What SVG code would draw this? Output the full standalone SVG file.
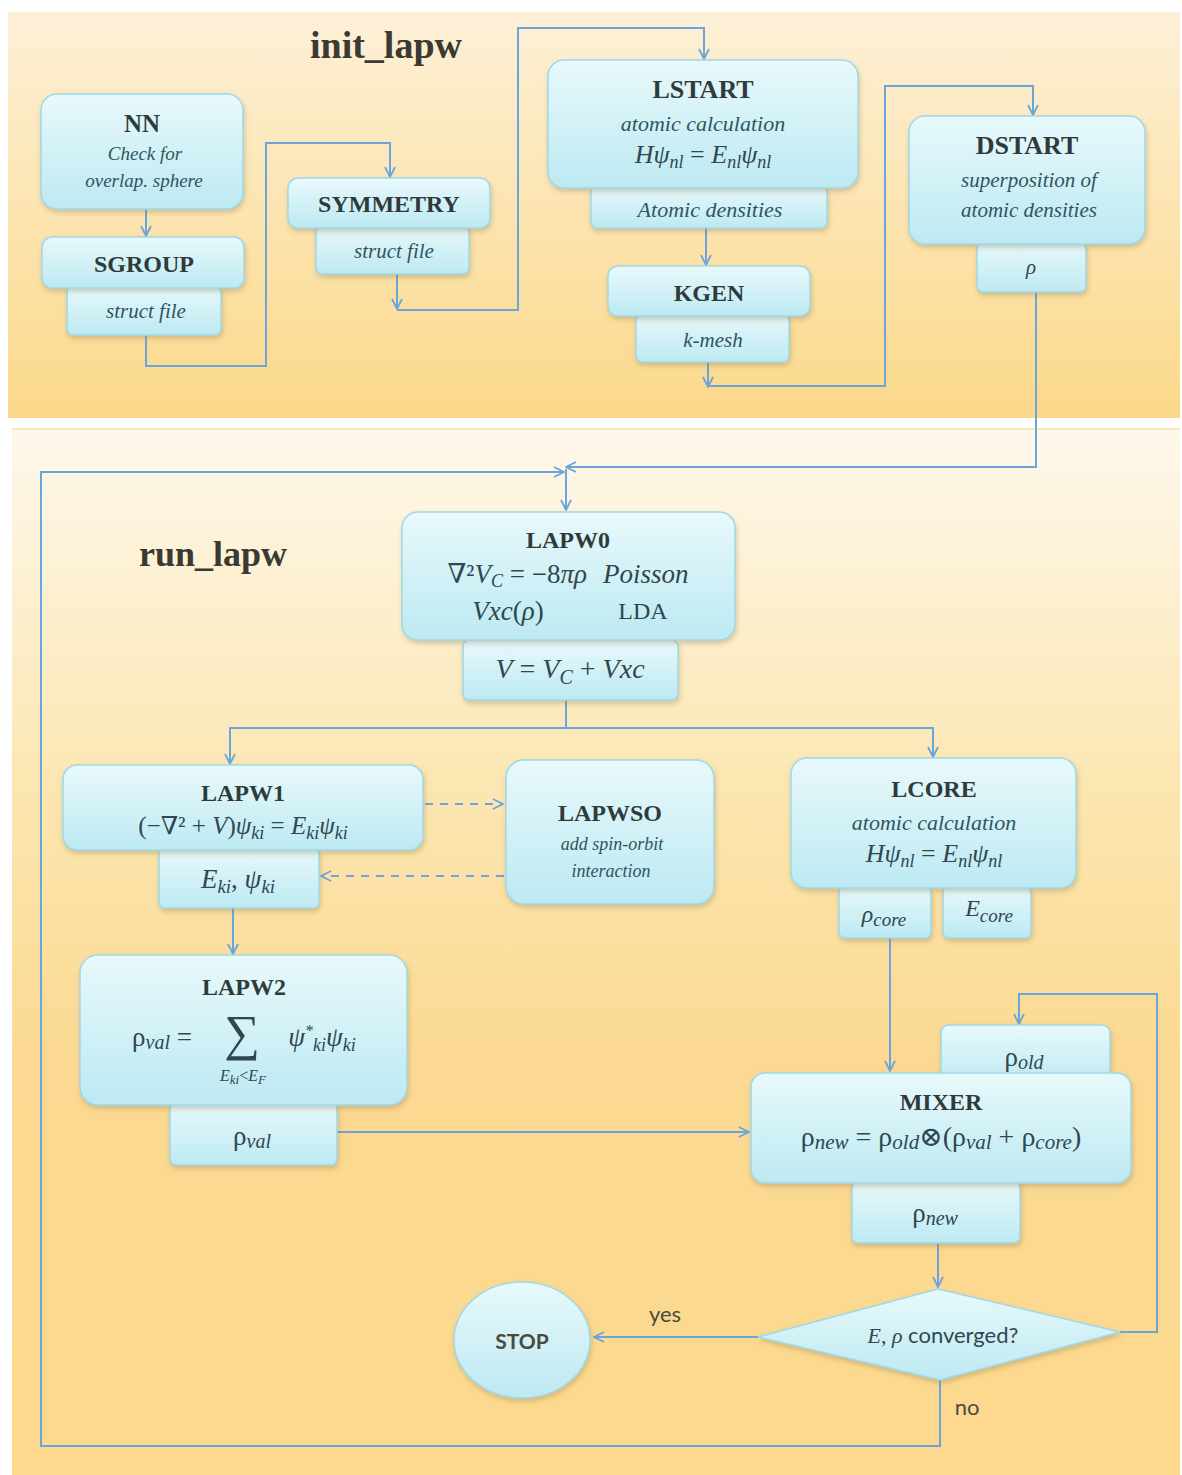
<svg xmlns="http://www.w3.org/2000/svg" width="1182" height="1475" viewBox="0 0 1182 1475">
<defs>
<linearGradient id="gTop" x1="0" y1="0" x2="0" y2="1">
<stop offset="0" stop-color="#fdf0d8"/>
<stop offset="0.6" stop-color="#fce2a8"/>
<stop offset="1" stop-color="#fbd88a"/>
</linearGradient>
<linearGradient id="gBot" x1="0" y1="0" x2="0" y2="1">
<stop offset="0" stop-color="#fef8ec"/>
<stop offset="0.35" stop-color="#fce6b0"/>
<stop offset="0.6" stop-color="#fbd992"/>
<stop offset="1" stop-color="#fcd98e"/>
</linearGradient>
<linearGradient id="gNode" x1="0" y1="0" x2="0" y2="1">
<stop offset="0" stop-color="#e8f9fb"/>
<stop offset="1" stop-color="#bde9f2"/>
</linearGradient>
<filter id="sh" x="-10%" y="-10%" width="120%" height="130%">
<feDropShadow dx="1" dy="3" stdDeviation="2.5" flood-color="#8a7a50" flood-opacity="0.35"/>
</filter>
<marker id="arr" viewBox="0 0 12 12" refX="11" refY="6" markerWidth="12" markerHeight="12" markerUnits="userSpaceOnUse" orient="auto">
<path d="M1,1 L11,6 L1,11" fill="none" stroke="#6aa6dc" stroke-width="1.8"/>
</marker>
</defs>
<style>
.box{fill:url(#gNode);stroke:#9fd9e7;stroke-width:1.5;filter:url(#sh)}
.ln{fill:none;stroke:#6aa6dc;stroke-width:2}
.la{fill:none;stroke:#6aa6dc;stroke-width:2;marker-end:url(#arr)}
.dash{fill:none;stroke:#6aa6dc;stroke-width:2;stroke-dasharray:8,7;marker-end:url(#arr)}
.h{font-family:"Liberation Serif","DejaVu Serif",serif;font-weight:bold;fill:#2f3b3b;text-anchor:middle}
.it{font-family:"Liberation Serif","DejaVu Serif",serif;font-style:italic;fill:#2f5561;text-anchor:middle}
.m{font-family:"Liberation Serif","DejaVu Serif",serif;fill:#2f4750;text-anchor:middle}
.mi{font-style:italic}
.ttl{font-family:"Liberation Serif","DejaVu Serif",serif;font-weight:bold;fill:#3a3a32}
.sans{font-family:Lato,"Liberation Sans",sans-serif;fill:#4a4a40}
</style>
<rect width="1182" height="1475" fill="#ffffff"/>
<rect x="8" y="12" width="1172" height="406" fill="url(#gTop)"/>
<rect x="12" y="428" width="1168" height="1047" fill="url(#gBot)"/>
<line x1="12" y1="429" x2="1180" y2="429" stroke="#f6e0b0" stroke-width="1.5"/>

<text class="ttl" x="386" y="58" font-size="38" text-anchor="middle">init_lapw</text>
<text class="ttl" x="213" y="566" font-size="36" text-anchor="middle">run_lapw</text>

<g id="connectors">
<path class="la" d="M146,209 V236"/>
<path class="la" d="M146,335 V366 H266 V143 H390 V177"/>
<path class="la" d="M397,274 V309"/>
<path class="la" d="M397,310 H518 V28 H704 V59"/>
<path class="la" d="M706,228 V265"/>
<path class="la" d="M708,362 V387"/>
<path class="la" d="M708,386 H885 V86 H1033 V115"/>
<path class="la" d="M1036,292 V467 H566"/>
<path class="la" d="M940,1380 V1446 H41 V472 H564"/>
<path class="la" d="M566,469 V510"/>
<path class="ln" d="M566,700 V728"/>
<path class="la" d="M566,728 H230 V764"/>
<path class="la" d="M566,728 H933 V757"/>
<path class="dash" d="M425,804 H503"/>
<path class="dash" d="M504,876 H321"/>
<path class="la" d="M233,908 V954"/>
<path class="la" d="M337,1132 H749"/>
<path class="la" d="M890,938 V1071"/>
<path class="la" d="M938,1243 V1287"/>
<path class="la" d="M1120,1332 H1157 V994 H1019 V1024"/>
<path class="la" d="M758,1337 H594"/>
</g>
<text class="sans" x="665" y="1322" font-size="22" text-anchor="middle">yes</text>
<text class="sans" x="967" y="1415" font-size="22" text-anchor="middle">no</text>

<g id="nn">
<rect class="box" x="41" y="94" width="202" height="115" rx="16"/>
<text class="h" x="142" y="132" font-size="25">NN</text>
<text class="it" x="145" y="160" font-size="19">Check for</text>
<text class="it" x="144" y="187" font-size="19">overlap. sphere</text>
</g>
<g id="sgroup">
<rect class="box" x="67" y="286" width="154" height="49" rx="6"/>
<text class="it" x="146" y="318" font-size="21">struct file</text>
<rect class="box" x="42" y="237" width="202" height="51" rx="10"/>
<text class="h" x="144" y="272" font-size="24">SGROUP</text>
</g>
<g id="symmetry">
<rect class="box" x="316" y="226" width="153" height="48" rx="6"/>
<text class="it" x="394" y="258" font-size="21">struct file</text>
<rect class="box" x="288" y="178" width="202" height="50" rx="10"/>
<text class="h" x="389" y="212" font-size="24">SYMMETRY</text>
</g>
<g id="lstart">
<rect class="box" x="591" y="186" width="236" height="42" rx="6"/>
<text class="it" x="710" y="217" font-size="22">Atomic densities</text>
<rect class="box" x="548" y="60" width="310" height="128" rx="16"/>
<text class="h" x="703" y="98" font-size="26">LSTART</text>
<text class="it" x="703" y="131" font-size="22">atomic calculation</text>
<text class="m" x="703" y="163" font-size="26"><tspan class="mi">Hψ</tspan><tspan class="mi" font-size="18" dy="5">nl</tspan><tspan dy="-5"> = </tspan><tspan class="mi">E</tspan><tspan class="mi" font-size="18" dy="5">nl</tspan><tspan class="mi" dy="-5">ψ</tspan><tspan class="mi" font-size="18" dy="5">nl</tspan></text>
</g>
<g id="kgen">
<rect class="box" x="636" y="314" width="153" height="48" rx="6"/>
<text class="it" x="713" y="347" font-size="21">k-mesh</text>
<rect class="box" x="608" y="266" width="202" height="50" rx="10"/>
<text class="h" x="709" y="301" font-size="24">KGEN</text>
</g>
<g id="dstart">
<rect class="box" x="977" y="242" width="109" height="50" rx="6"/>
<text class="m mi" x="1031" y="274" font-size="21">ρ</text>
<rect class="box" x="909" y="116" width="236" height="128" rx="16"/>
<text class="h" x="1027" y="154" font-size="26">DSTART</text>
<text class="it" x="1029" y="187" font-size="21">superposition of</text>
<text class="it" x="1029" y="217" font-size="21">atomic densities</text>
</g>
<g id="lapw0">
<rect class="box" x="463" y="640" width="215" height="60" rx="6"/>
<text class="m" x="570" y="678" font-size="28"><tspan class="mi">V</tspan> = <tspan class="mi">V</tspan><tspan class="mi" font-size="20" dy="6">C</tspan><tspan dy="-6"> + </tspan><tspan class="mi">Vxc</tspan></text>
<rect class="box" x="402" y="512" width="333" height="128" rx="16"/>
<text class="h" x="568" y="548" font-size="24">LAPW0</text>
<text class="m" x="568" y="583" font-size="27">∇²<tspan class="mi">V</tspan><tspan class="mi" font-size="18" dy="4">C</tspan><tspan dy="-4"> = −8</tspan><tspan class="mi">πρ</tspan><tspan class="mi" dx="16">Poisson</tspan></text>
<text class="m" x="508" y="620" font-size="27"><tspan class="mi">Vxc</tspan>(<tspan class="mi">ρ</tspan>)</text>
<text class="m" x="643" y="619" font-size="24">LDA</text>
</g>
<g id="lapw1">
<rect class="box" x="159" y="848" width="160" height="60" rx="6"/>
<text class="m" x="238" y="888" font-size="27"><tspan class="mi">E</tspan><tspan class="mi" font-size="19" dy="5">ki</tspan><tspan dy="-5">, </tspan><tspan class="mi">ψ</tspan><tspan class="mi" font-size="19" dy="5">ki</tspan></text>
<rect class="box" x="63" y="765" width="360" height="85" rx="14"/>
<text class="h" x="243" y="801" font-size="24">LAPW1</text>
<text class="m" x="243" y="834" font-size="25">(−∇² + <tspan class="mi">V</tspan>)<tspan class="mi">ψ</tspan><tspan class="mi" font-size="18" dy="5">ki</tspan><tspan dy="-5"> = </tspan><tspan class="mi">E</tspan><tspan class="mi" font-size="18" dy="5">ki</tspan><tspan class="mi" dy="-5">ψ</tspan><tspan class="mi" font-size="18" dy="5">ki</tspan></text>
</g>
<g id="lapwso">
<rect class="box" x="506" y="760" width="208" height="144" rx="18"/>
<text class="h" x="610" y="821" font-size="24">LAPWSO</text>
<text class="it" x="612" y="850" font-size="18">add spin-orbit</text>
<text class="it" x="611" y="877" font-size="18">interaction</text>
</g>
<g id="lapw2">
<rect class="box" x="170" y="1103" width="167" height="62" rx="6"/>
<text class="m" x="252" y="1145" font-size="27">ρ<tspan class="mi" font-size="20" dy="3">val</tspan></text>
<rect class="box" x="80" y="955" width="327" height="150" rx="18"/>
<text class="h" x="244" y="995" font-size="24">LAPW2</text>
<text class="m" x="162" y="1046" font-size="27">ρ<tspan class="mi" font-size="20" dy="3">val</tspan><tspan dy="-3"> =</tspan></text>
<text class="m" x="242" y="1050" font-size="50">∑</text>
<text class="m" x="322" y="1046" font-size="27"><tspan class="mi">ψ</tspan><tspan class="mi" font-size="16" dy="-10">*</tspan><tspan class="mi" font-size="18" dy="15">ki</tspan><tspan class="mi" dy="-5">ψ</tspan><tspan class="mi" font-size="18" dy="5">ki</tspan></text>
<text class="m" x="243" y="1081" font-size="16"><tspan class="mi">E</tspan><tspan class="mi" font-size="13" dy="3">ki</tspan><tspan dy="-3">&lt;</tspan><tspan class="mi">E</tspan><tspan class="mi" font-size="13" dy="3">F</tspan></text>
</g>
<g id="lcore">
<rect class="box" x="839" y="886" width="92" height="52" rx="6"/>
<text class="m" x="884" y="922" font-size="24"><tspan class="mi">ρ</tspan><tspan class="mi" font-size="19" dy="4">core</tspan></text>
<rect class="box" x="943" y="886" width="88" height="52" rx="6"/>
<text class="m" x="989" y="916" font-size="24"><tspan class="mi">E</tspan><tspan class="mi" font-size="19" dy="6">core</tspan></text>
<rect class="box" x="791" y="758" width="285" height="130" rx="16"/>
<text class="h" x="934" y="797" font-size="24">LCORE</text>
<text class="it" x="934" y="830" font-size="22">atomic calculation</text>
<text class="m" x="934" y="862" font-size="26"><tspan class="mi">Hψ</tspan><tspan class="mi" font-size="18" dy="5">nl</tspan><tspan dy="-5"> = </tspan><tspan class="mi">E</tspan><tspan class="mi" font-size="18" dy="5">nl</tspan><tspan class="mi" dy="-5">ψ</tspan><tspan class="mi" font-size="18" dy="5">nl</tspan></text>
</g>
<g id="mixer">
<rect class="box" x="941" y="1025" width="169" height="60" rx="8"/>
<text class="m" x="1024" y="1066" font-size="27">ρ<tspan class="mi" font-size="20" dy="3">old</tspan></text>
<rect class="box" x="852" y="1181" width="168" height="62" rx="6"/>
<text class="m" x="935" y="1222" font-size="27">ρ<tspan class="mi" font-size="20" dy="3">new</tspan></text>
<rect class="box" x="751" y="1073" width="380" height="110" rx="14"/>
<text class="h" x="941" y="1110" font-size="24">MIXER</text>
<text class="m" x="941" y="1146" font-size="28">ρ<tspan class="mi" font-size="21" dy="3">new</tspan><tspan dy="-3"> = ρ</tspan><tspan class="mi" font-size="21" dy="3">old</tspan><tspan dy="-3">⊗(ρ</tspan><tspan class="mi" font-size="21" dy="3">val</tspan><tspan dy="-3"> + ρ</tspan><tspan class="mi" font-size="21" dy="3">core</tspan><tspan dy="-3">)</tspan></text>
</g>
<g id="converged">
<polygon class="box" points="938,1289 1120,1332 940,1380 758,1337"/>
<text class="m" x="943" y="1343" font-size="22"><tspan class="mi">E</tspan>, <tspan class="mi">ρ</tspan> <tspan font-family="Lato,'Liberation Sans',sans-serif">converged?</tspan></text>
</g>
<g id="stop">
<ellipse class="box" cx="522" cy="1340" rx="68" ry="58"/>
<text class="sans" x="522" y="1349" font-size="21" font-weight="bold" text-anchor="middle" fill="#333">STOP</text>
</g>
</svg>
